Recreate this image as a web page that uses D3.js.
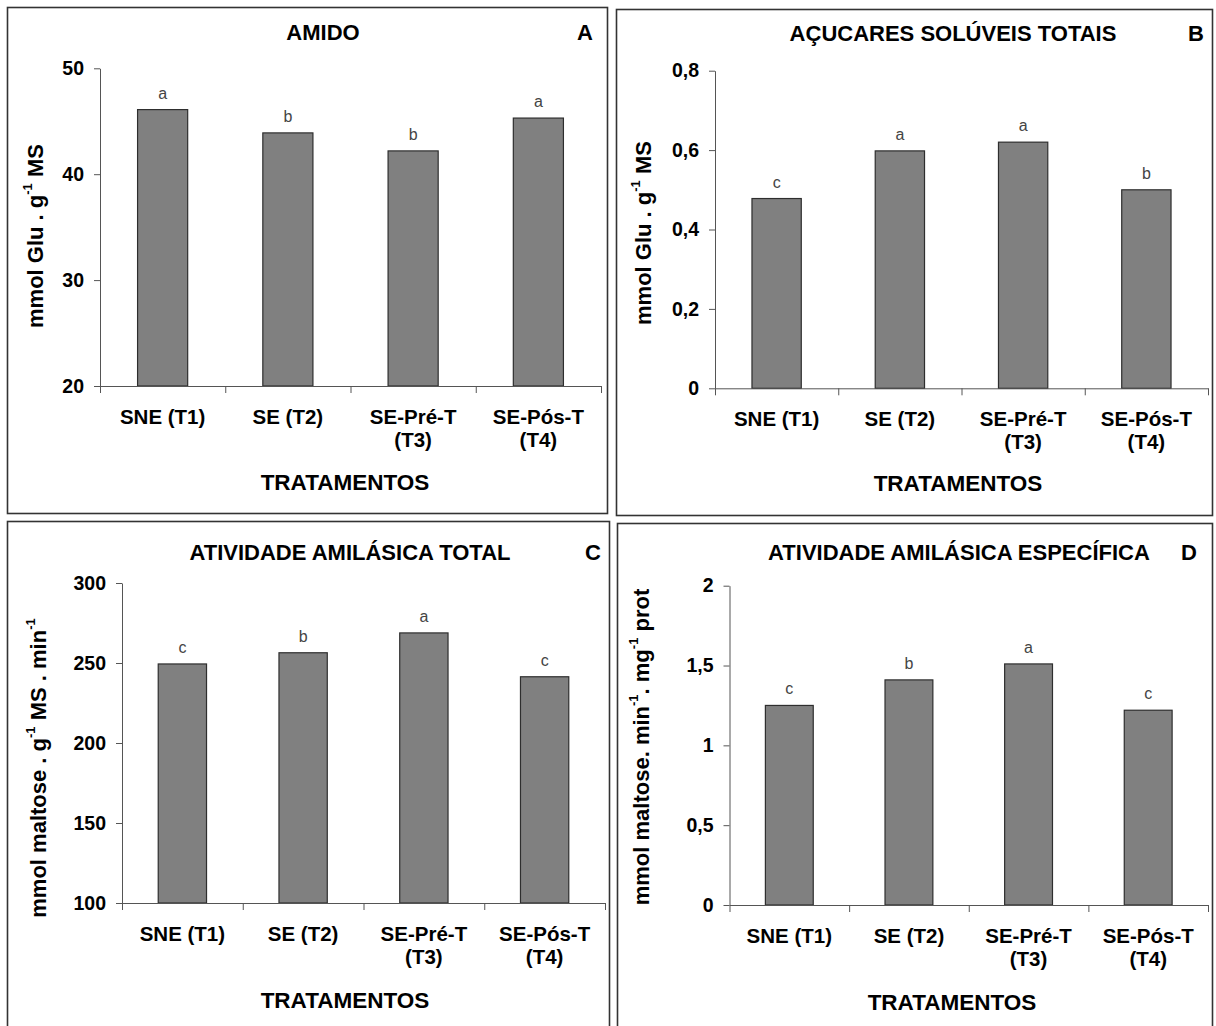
<!DOCTYPE html>
<html>
<head>
<meta charset="utf-8">
<script src="https://cdn.jsdelivr.net/npm/d3@7/dist/d3.min.js"></script>
<style>
  html, body { margin: 0; padding: 0; background: #fff; }
  svg { display: block; font-family: "Liberation Sans", Arial, sans-serif; }
</style>
</head>
<body>
<svg id="chart" width="1216" height="1026"></svg>
<script>
// ---------- DATA ----------
const categories = [["SNE (T1)"], ["SE (T2)"], ["SE-Pré-T", "(T3)"], ["SE-Pós-T", "(T4)"]];
const xAxisTitle = "TRATAMENTOS";

const amidoValues = [46.1, 43.9, 42.2, 45.3];
const amidoLetters = ["a", "b", "b", "a"];
const amidoTicks = [20, 30, 40, 50];
const amidoTickLabels = ["20", "30", "40", "50"];

const acucaresValues = [0.478, 0.598, 0.620, 0.500];
const acucaresLetters = ["c", "a", "a", "b"];
const acucaresTicks = [0, 0.2, 0.4, 0.6, 0.8];
const acucaresTickLabels = ["0", "0,2", "0,4", "0,6", "0,8"];

const totalValues = [249.4, 256.4, 268.8, 241.4];
const totalLetters = ["c", "b", "a", "c"];
const totalTicks = [100, 150, 200, 250, 300];
const totalTickLabels = ["100", "150", "200", "250", "300"];

const especificaValues = [1.25, 1.41, 1.51, 1.22];
const especificaLetters = ["c", "b", "a", "c"];
const especificaTicks = [0, 0.5, 1, 1.5, 2];
const especificaTickLabels = ["0", "0,5", "1", "1,5", "2"];

const panelTitles = ["AMIDO", "AÇUCARES SOLÚVEIS TOTAIS", "ATIVIDADE AMILÁSICA TOTAL", "ATIVIDADE AMILÁSICA ESPECÍFICA"];
const panelLetters = ["A", "B", "C", "D"];
// y-axis titles: pieces [text, isSuperscript]
const yTitles = [
  [["mmol Glu . g", false], ["-1", true], [" MS", false]],
  [["mmol Glu . g", false], ["-1", true], [" MS", false]],
  [["mmol maltose . g", false], ["-1", true], [" MS . min", false], ["-1", true]],
  [["mmol maltose. min", false], ["-1", true], [". mg", false], ["-1", true], [" prot", false]]
];

// ---------- LAYOUT ----------
const layouts = [
  { box: [7, 7, 607, 513], x0: 100, x1: 601, yTop: 68.3, yBot: 386, title: [323, 32], letter: [585, 32], ylab: [35, 236], xlab: [345, 482] },
  { box: [616, 9, 1212, 515], x0: 715, x1: 1208, yTop: 70.7, yBot: 388.3, title: [953, 33], letter: [1196, 33], ylab: [643, 233], xlab: [958, 483] },
  { box: [7, 521, 609, 1040], x0: 122, x1: 605, yTop: 583, yBot: 903, title: [350, 552], letter: [593, 552], ylab: [38, 768], xlab: [345, 1000] },
  { box: [617, 523, 1212, 1040], x0: 729.5, x1: 1208, yTop: 585.7, yBot: 905, title: [959, 552], letter: [1189, 552], ylab: [641, 747], xlab: [952, 1002] }
];

const datasets = [
  { values: amidoValues, letters: amidoLetters, ticks: amidoTicks, tickLabels: amidoTickLabels },
  { values: acucaresValues, letters: acucaresLetters, ticks: acucaresTicks, tickLabels: acucaresTickLabels },
  { values: totalValues, letters: totalLetters, ticks: totalTicks, tickLabels: totalTickLabels },
  { values: especificaValues, letters: especificaLetters, ticks: especificaTicks, tickLabels: especificaTickLabels }
];

const svg = d3.select("#chart");
const AXIS = "#555";
const INK = "#000";

datasets.forEach((ds, i) => {
  const L = layouts[i];
  const g = svg.append("g");

  // panel frame
  g.append("rect")
    .attr("x", L.box[0] + 0.5).attr("y", L.box[1] + 0.5)
    .attr("width", L.box[2] - L.box[0]).attr("height", L.box[3] - L.box[1])
    .attr("fill", "none").attr("stroke", "#333").attr("stroke-width", 1.6);

  const y = d3.scaleLinear()
    .domain([ds.ticks[0], ds.ticks[ds.ticks.length - 1]])
    .range([L.yBot, L.yTop]);
  const x = d3.scaleBand()
    .domain(d3.range(categories.length))
    .range([L.x0, L.x1])
    .paddingInner(0.6).paddingOuter(0.3);
  const xEdges = d3.scaleLinear().domain([0, categories.length]).range([L.x0, L.x1]);

  // bars
  g.selectAll("rect.bar").data(ds.values).join("rect")
    .attr("class", "bar")
    .attr("x", (d, j) => x(j))
    .attr("width", x.bandwidth())
    .attr("y", d => y(d))
    .attr("height", d => y(ds.ticks[0]) - y(d))
    .attr("fill", "#808080")
    .attr("stroke", "#2e2e2e").attr("stroke-width", 1.2);

  // significance letters
  g.selectAll("text.sig").data(ds.values).join("text")
    .attr("class", "sig")
    .attr("x", (d, j) => x(j) + x.bandwidth() / 2)
    .attr("y", d => y(d) - 11)
    .attr("text-anchor", "middle")
    .attr("font-size", 16).attr("fill", "#444")
    .text((d, j) => ds.letters[j]);

  // y axis
  const yAx = g.append("g")
    .attr("transform", `translate(${L.x0},0)`)
    .call(d3.axisLeft(y).tickValues(ds.ticks).tickSize(6).tickSizeOuter(0).tickPadding(10)
      .tickFormat((d, k) => ds.tickLabels[k]));
  yAx.select(".domain").attr("stroke", AXIS);
  yAx.selectAll(".tick line").attr("stroke", AXIS);
  yAx.selectAll(".tick text").attr("font-size", 19.5).attr("font-weight", "bold")
    .attr("fill", INK).attr("font-family", "'Liberation Sans', Arial, sans-serif");

  // x axis (ticks at category boundaries)
  const xAx = g.append("g")
    .attr("transform", `translate(0,${L.yBot})`)
    .call(d3.axisBottom(xEdges).tickValues(d3.range(categories.length + 1)).tickSize(7).tickSizeOuter(0).tickFormat(""));
  xAx.select(".domain").attr("stroke", AXIS);
  xAx.selectAll(".tick line").attr("stroke", AXIS);

  // category labels
  categories.forEach((lines, j) => {
    const t = g.append("text")
      .attr("x", x(j) + x.bandwidth() / 2)
      .attr("y", L.yBot + 38)
      .attr("text-anchor", "middle")
      .attr("font-size", 20.5).attr("font-weight", "bold").attr("fill", INK);
    lines.forEach((ln, k) => {
      t.append("tspan").attr("x", x(j) + x.bandwidth() / 2).attr("dy", k === 0 ? 0 : 23).text(ln);
    });
  });

  // x axis title
  g.append("text")
    .attr("x", L.xlab[0]).attr("y", L.xlab[1])
    .attr("text-anchor", "middle").attr("dominant-baseline", "central")
    .attr("font-size", 22.5).attr("font-weight", "bold").attr("fill", INK)
    .text(xAxisTitle);

  // panel title
  g.append("text")
    .attr("x", L.title[0]).attr("y", L.title[1])
    .attr("text-anchor", "middle").attr("dominant-baseline", "central")
    .attr("font-size", 22).attr("font-weight", "bold").attr("fill", INK)
    .text(panelTitles[i]);
  g.append("text")
    .attr("x", L.letter[0]).attr("y", L.letter[1])
    .attr("text-anchor", "middle").attr("dominant-baseline", "central")
    .attr("font-size", 22).attr("font-weight", "bold").attr("fill", INK)
    .text(panelLetters[i]);

  // y axis title (rotated)
  const yt = g.append("text")
    .attr("transform", `translate(${L.ylab[0]},${L.ylab[1]}) rotate(-90)`)
    .attr("text-anchor", "middle").attr("dominant-baseline", "central")
    .attr("font-size", 22).attr("font-weight", "bold").attr("fill", INK);
  yTitles[i].forEach(([txt, sup]) => {
    const ts = yt.append("tspan").text(txt);
    if (sup) ts.attr("font-size", 13).attr("baseline-shift", "super");
  });
});
</script>
</body>
</html>
